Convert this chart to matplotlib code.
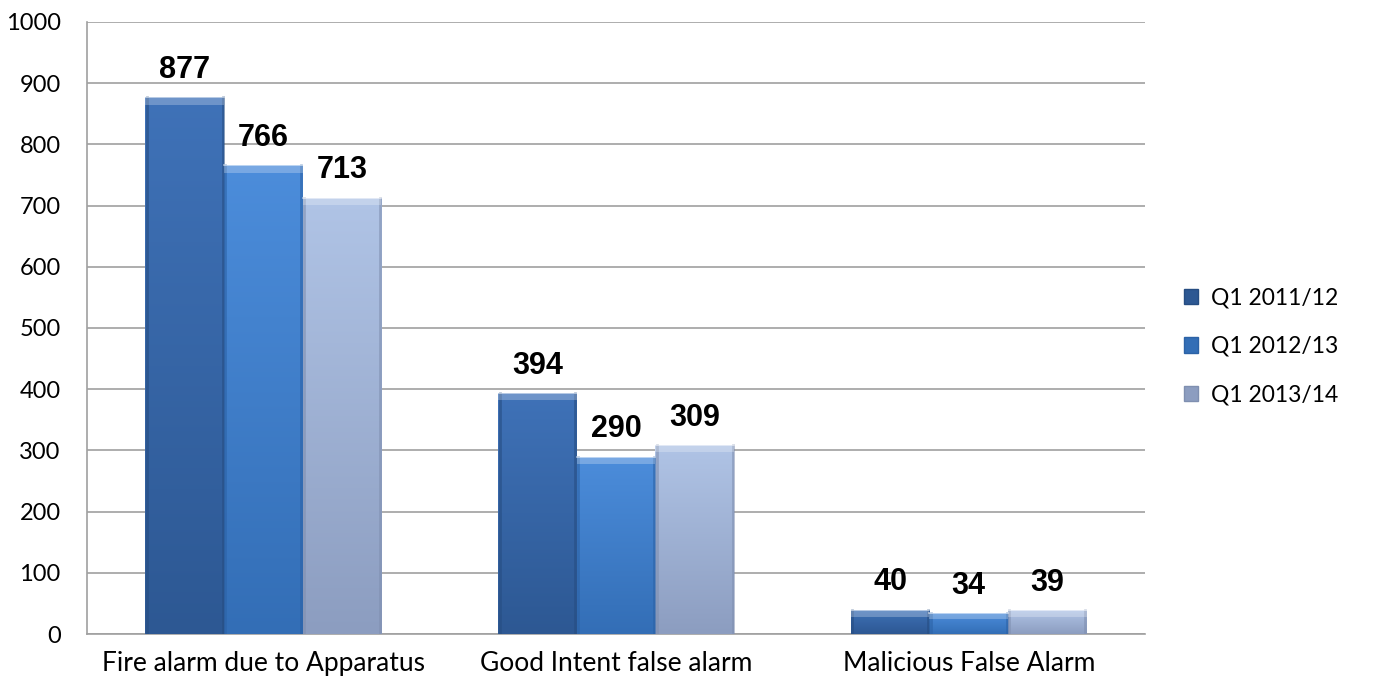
import numpy as np
import matplotlib.pyplot as plt
from matplotlib.colors import LinearSegmentedColormap
from matplotlib.patches import Patch

categories = ["Fire alarm due to Apparatus", "Good Intent false alarm", "Malicious False Alarm"]
series = ["Q1 2011/12", "Q1 2012/13", "Q1 2013/14"]
q1_2011 = [877, 394, 40]
q1_2012 = [766, 290, 34]
q1_2013 = [713, 309, 39]
values = [q1_2011, q1_2012, q1_2013]

# top / bottom shade for each series
shades = [("#3f72b8", "#2d5893"), ("#4c8ddb", "#336eb6"), ("#b0c4e6", "#8c9dc0")]
edge_cols = ["#264d82", "#2c62a6", "#7f8fb0"]

plt.rcParams["font.family"] = ["Lato", "DejaVu Sans"]

fig = plt.figure(figsize=(13.73, 6.86), dpi=100)
ax = fig.add_axes([0.0634, 0.0758, 0.7706, 0.8922])

x = np.arange(len(categories))
w = 0.223
offsets = [-w, 0, w]

ax.set_xlim(-0.5, 2.5)
ax.set_ylim(0, 1000)
ax.set_yticks(np.arange(0, 1001, 100))
ax.yaxis.grid(True, color="#a0a0a0", linewidth=1.2)
ax.set_axisbelow(True)

for i, vals in enumerate(values):
    top, bot = shades[i]
    cmap = LinearSegmentedColormap.from_list("g%d" % i, [bot, top])
    bars = ax.bar(x + offsets[i], vals, width=w, color=top, edgecolor="none", zorder=2)
    for b, v in zip(bars, vals):
        x0 = b.get_x()
        # vertical gradient clipped to the bar
        grad = np.linspace(0, 1, 256).reshape(-1, 1)
        im = ax.imshow(grad, cmap=cmap, origin="lower", aspect="auto",
                       extent=(x0, x0 + w, 0, v), zorder=3)
        im.set_clip_path(b)
        # darker side edges
        ax.plot([x0 + 0.004, x0 + 0.004], [0, v], color=edge_cols[i], lw=2, alpha=0.6, zorder=4)
        ax.plot([x0 + w - 0.004, x0 + w - 0.004], [0, v], color=edge_cols[i], lw=2, alpha=0.6, zorder=4)
        # light bevel along the top
        bev = min(12, v * 0.3)
        ax.fill_between([x0, x0 + w], v - bev, v, color="white", alpha=0.25, lw=0, zorder=4)
        ax.plot([x0, x0 + w], [v, v], color="white", lw=1.2, alpha=0.6, zorder=5)
        ax.text(x0 + w / 2, v + 20, str(v), ha="center", va="bottom",
                fontsize=22, fontweight="bold", family="Liberation Sans", zorder=6)

ax.set_xticks(x)
ax.set_xticklabels(categories, fontsize=19)
ax.tick_params(axis="x", length=0, pad=12)
ax.tick_params(axis="y", labelsize=17, length=0, pad=19)

for s in ["top", "right"]:
    ax.spines[s].set_visible(False)
for s in ["left", "bottom"]:
    ax.spines[s].set_color("#a0a0a0")
    ax.spines[s].set_linewidth(1.2)

handles = [Patch(facecolor=shades[i][1], edgecolor=edge_cols[i], label=series[i]) for i in range(3)]
fig.legend(handles=handles, loc="center left", bbox_to_anchor=(0.847, 0.495), frameon=False,
           fontsize=16.5, handlelength=0.65, handleheight=0.65, handletextpad=0.55, labelspacing=1.2)

fig.savefig("out.png", dpi=100)
